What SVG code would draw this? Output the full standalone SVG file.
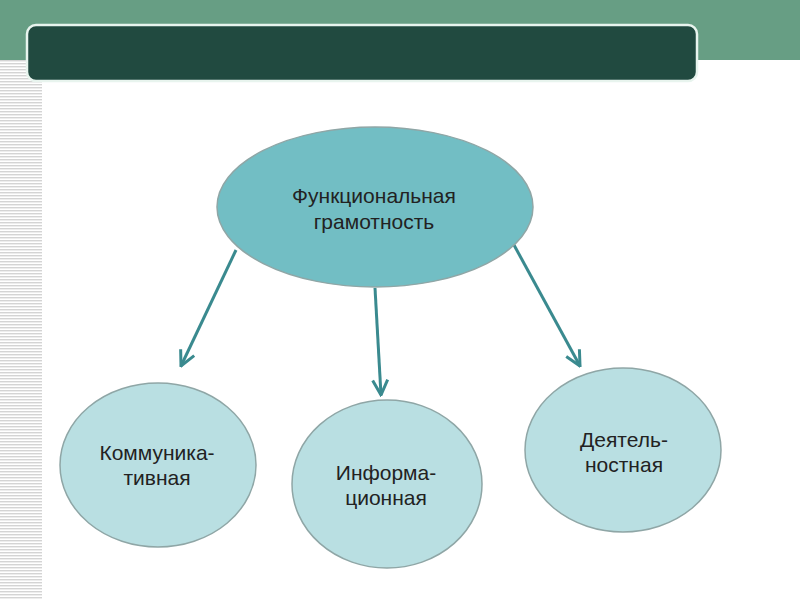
<svg xmlns="http://www.w3.org/2000/svg" width="800" height="600" viewBox="0 0 800 600">
<defs>
<pattern id="stripes" x="0" y="0" width="6" height="3" patternUnits="userSpaceOnUse">
<rect width="6" height="3" fill="#ffffff"/>
<rect width="6" height="1.4" fill="#d4d4d4"/>
</pattern>
<marker id="chev" viewBox="0 0 12 12" refX="11" refY="6" markerWidth="6" markerHeight="6" markerUnits="strokeWidth" orient="auto">
<path d="M1,1 L11,6 L1,11" fill="none" stroke="#3a8a8f" stroke-width="2"/>
</marker>
<style>
.main{fill:#72bec4;stroke:#8fa6a6;stroke-width:1.5}
.sub{fill:#b9dfe2;stroke:#8fa6a6;stroke-width:1.5}
.lbl{font-family:"Liberation Sans",Arial,sans-serif;font-size:21px;fill:#222222;text-anchor:middle}
.conn{stroke:#3a8a8f;stroke-width:3;fill:none;marker-end:url(#chev)}
</style>
</defs>
<rect width="800" height="600" fill="#ffffff"/>
<rect x="0" y="0" width="800" height="60" fill="#679e84"/>
<rect x="0" y="60" width="42" height="540" fill="url(#stripes)"/>
<rect x="27" y="25" width="670" height="56" rx="9" fill="#214a40" stroke="#e8f4ee" stroke-width="2.5"/>
<g id="connectors">
<line class="conn" x1="236" y1="250" x2="181" y2="366"/>
<line class="conn" x1="375" y1="288" x2="381" y2="395"/>
<line class="conn" x1="514" y1="245" x2="580" y2="366"/>
</g>
<g id="node-main">
<ellipse class="main" cx="375" cy="207" rx="158" ry="80"/>
<text class="lbl" x="374" y="203">Функциональная</text>
<text class="lbl" x="374" y="229">грамотность</text>
</g>
<g id="node-komm">
<ellipse class="sub" cx="158" cy="465" rx="98" ry="82"/>
<text class="lbl" x="157" y="460">Коммуника-</text>
<text class="lbl" x="157" y="485">тивная</text>
</g>
<g id="node-inform">
<ellipse class="sub" cx="387" cy="484" rx="95" ry="84"/>
<text class="lbl" x="386" y="480">Информа-</text>
<text class="lbl" x="386" y="505">ционная</text>
</g>
<g id="node-deyat">
<ellipse class="sub" cx="623" cy="450" rx="98" ry="82"/>
<text class="lbl" x="624" y="447">Деятель-</text>
<text class="lbl" x="624" y="472">ностная</text>
</g>
</svg>
